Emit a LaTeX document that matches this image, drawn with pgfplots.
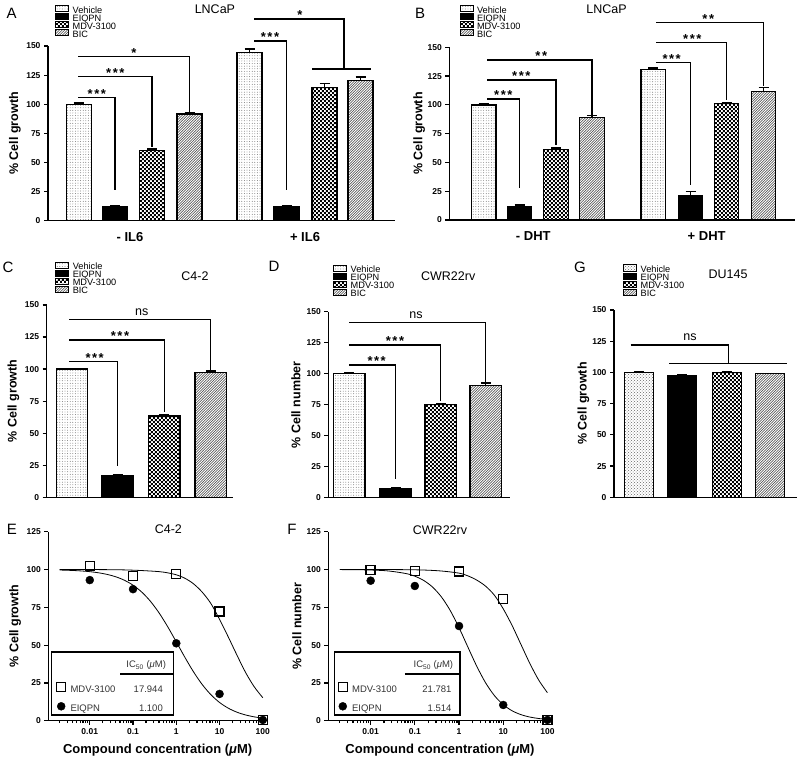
\documentclass[border=0pt]{standalone}
\usepackage{pgfplots}
\pgfplotsset{compat=1.18}
\usepackage{fontspec}
\setmainfont{Liberation Sans}
\usetikzlibrary{patterns}
\pgfdeclarepatternformonly{smallchecker}{\pgfpointorigin}{\pgfqpoint{4.4pt}{4.4pt}}{\pgfqpoint{4.4pt}{4.4pt}}{%
  \pgfpathrectangle{\pgfpointorigin}{\pgfqpoint{2.2pt}{2.2pt}}%
  \pgfpathrectangle{\pgfqpoint{2.2pt}{2.2pt}}{\pgfqpoint{2.2pt}{2.2pt}}%
  \pgfusepath{fill}}
\pgfdeclarepatternformonly{finedots}{\pgfqpoint{-0.5pt}{-0.5pt}}{\pgfqpoint{0.5pt}{0.5pt}}{\pgfqpoint{2.6pt}{2.6pt}}{%
  \pgfpathcircle{\pgfpointorigin}{0.45pt}%
  \pgfusepath{fill}}
\pgfdeclarepatternformonly{finehatch}{\pgfqpoint{-1pt}{-1pt}}{\pgfqpoint{3pt}{3pt}}{\pgfqpoint{2.6pt}{2.6pt}}{%
  \pgfsetlinewidth{0.55pt}%
  \pgfpathmoveto{\pgfqpoint{0pt}{0pt}}%
  \pgfpathlineto{\pgfqpoint{2.7pt}{2.7pt}}%
  \pgfusepath{stroke}}
\newcommand{\fs}[1]{\fontsize{#1}{#1}\selectfont}
\newcommand{\three}{*\hspace{1.5pt}*\hspace{1.5pt}*}
\newcommand{\two}{*\hspace{1.5pt}*}
\tikzset{
  brline/.style={line width=1.3pt},
  stars/.style={anchor=south, inner sep=0pt, font=\bfseries\fs{13}, yshift=-1pt},
  nslab/.style={anchor=south, inner sep=0pt, font=\fs{12.5}, yshift=4pt},
}
\newcommand{\brk}[6]{%
  \draw[brline] (axis cs:#1,#3) -- (axis cs:#2,#3) -- (axis cs:#2,#4);
  \node[stars] at (axis cs:#5,#3) {#6};}
\pgfplotsset{
  common/.style={
    scale only axis, clip=false,
    axis lines*=left,
    axis line style={line width=1.2pt},
    tick align=outside,
    major tick length=4pt,
    every tick/.style={black, line width=1.2pt},
    /pgf/number format/assume math mode=true,
    tick label style={font=\bfseries\fs{8.5}},
    ylabel style={font=\bfseries\fs{12.5}, anchor=center},
    title style={font=\fs{12.5}, anchor=center},
  },
  barpanel/.style={
    common,
    ymin=0, ymax=150, ytick={0,25,...,150},
    xticklabel style={font=\bfseries\fs{13}, yshift=-4pt},
    major x tick style={draw=none},
    legend style={anchor=north west, draw=none, fill=none, font=\fs{9.2},
      row sep=-1.8pt, inner sep=0pt, nodes={inner sep=0pt, text height=5.4pt, text depth=1.7pt},
      /tikz/every odd column/.append style={column sep=3.5pt}},
    legend cell align=left,
    legend image code/.code={\draw[#1, line width=1pt] (0pt,-0.4pt) rectangle (13pt,5.8pt);},
  },
  bars/.style={ybar, bar shift=0pt, draw=black, line width=1.3pt,
    error bars/y dir=plus, error bars/y explicit,
    error bars/error bar style={line width=1.3pt, black},
    error bars/error mark options={rotate=90, line width=1.3pt, mark size=5pt, black}},
  veh/.style={bars, pattern=finedots, pattern color=black!60},
  vehg/.style={bars, pattern=crosshatch dots, pattern color=black!60},
  eiq/.style={bars, fill=black},
  mdv/.style={bars, pattern=smallchecker, pattern color=black},
  bic/.style={bars, pattern=finehatch, pattern color=black!75},
  curve/.style={black, line width=0.8pt, smooth, forget plot},
  mdvm/.style={only marks, mark=square, mark size=4.5pt, mark options={line width=1.4pt, fill=white, draw=black},
    legend image code/.code={\draw[##1] plot coordinates {(0pt,3pt)};}},
  eiqm/.style={only marks, mark=*, mark size=4pt, mark options={fill=black, draw=black},
    legend image code/.code={\draw[##1] plot coordinates {(0pt,3pt)};}},
  doseresp/.style={
    common,
    xmin=0.0011, xmax=125, ymin=0, ymax=125, ytick={0,25,...,125},
    xtick={0.01,0.1,1,10,100}, xticklabels={0.01,0.1,1,10,100},
    minor xtick={0.002,0.003,0.004,0.005,0.006,0.007,0.008,0.009,0.02,0.03,0.04,0.05,0.06,0.07,0.08,0.09,0.2,0.3,0.4,0.5,0.6,0.7,0.8,0.9,2,3,4,5,6,7,8,9,20,30,40,50,60,70,80,90},
    minor tick length=2.5pt,
    xlabel={Compound concentration (\textit{μ}M)},
    xlabel style={font=\bfseries\fs{13}, at={(rel axis cs:0.5,0)}, anchor=center, yshift=-29.3pt},
    legend style={anchor=north west, draw=none, fill=none, font=\fs{9.5}, text=black!80,
      row sep=8pt, inner sep=0pt, nodes={inner sep=0pt},
      /tikz/every odd column/.append style={column sep=4.8pt}},
    legend cell align=left,
  },
}
\begin{document}
\begin{tikzpicture}[x=1pt,y=1pt]
\useasboundingbox (0,0) rectangle (800,763);

% ---------------- A ----------------
\begin{axis}[barpanel, at={(48pt,542.3pt)}, anchor=south west, width=347pt, height=174.7pt,
  xmin=0, xmax=347, bar width=25,
  xtick={82,257}, xticklabels={- IL6,+ IL6},
  ylabel={\% Cell growth}, ylabel style={at={(rel axis cs:-0.095,0.5)}},
  legend style={at={(rel axis cs:0.02,1.236)}},
  title={LNCaP}, title style={at={(rel axis cs:0.481,1.177)}}]
\addplot[veh] coordinates {(30.7,100) +- (0,1) (201.5,144.5) +- (0,3)};
\addplot[eiq] coordinates {(67,12) +- (0,0.6) (238.5,12) +- (0,0.6)};
\addplot[mdv] coordinates {(104,60.5) +- (0,1) (276.5,114.5) +- (0,3)};
\addplot[bic] coordinates {(141.5,91.5) +- (0,1.5) (312.5,120.5) +- (0,3)};
\legend{Vehicle,EIQPN,MDV-3100,BIC}
\brk{30}{67}{106}{26}{48.8}{\three}
\brk{30}{104}{123.7}{63.6}{67.3}{\three}
\brk{30}{141.5}{141}{93.6}{86}{*}
\brk{206}{238.5}{154.3}{26.3}{222}{\three}
\draw[brline] (axis cs:206,173.2) -- (axis cs:296,173.2) -- (axis cs:296,130.3);
\draw[brline] (axis cs:264,130.3) -- (axis cs:322.7,130.3);
\node[stars] at (axis cs:252,173.2) {*};
\end{axis}

% ---------------- B ----------------
\begin{axis}[barpanel, at={(449.3pt,543pt)}, anchor=south west, width=345.7pt, height=172.7pt,
  xmin=0, xmax=345.7, bar width=24.5,
  xtick={84,257.4}, xticklabels={- DHT,+ DHT},
  ylabel={\% Cell growth}, ylabel style={at={(rel axis cs:-0.087,0.5)}},
  legend style={at={(rel axis cs:0.029,1.246)}},
  title={LNCaP}, title style={at={(rel axis cs:0.455,1.187)}}]
\addplot[veh] coordinates {(34.4,100) +- (0,1) (204,131) +- (0,1)};
\addplot[eiq] coordinates {(70.2,12) +- (0,1) (241.2,21.5) +- (0,3)};
\addplot[mdv] coordinates {(106.7,61.5) +- (0,1) (277.2,101) +- (0,0.6)};
\addplot[bic] coordinates {(142.7,89) +- (0,1.5) (314.2,111.5) +- (0,3.5)};
\legend{Vehicle,EIQPN,MDV-3100,BIC}
\brk{37.7}{70.2}{105}{27.5}{54}{\three}
\brk{37.7}{106.7}{121.6}{65}{72}{\three}
\brk{37.7}{142.7}{139}{91.5}{92}{\two}
\brk{206.7}{241.2}{136.7}{30.4}{222.3}{\three}
\brk{206.7}{277.2}{154.3}{104.2}{243}{\three}
\brk{206.7}{314.2}{171.7}{116.4}{259}{\two}
\end{axis}

% ---------------- C ----------------
\begin{axis}[barpanel, at={(46.7pt,265.7pt)}, anchor=south west, width=186.3pt, height=192.3pt,
  xmin=0, xmax=186.3, bar width=31.5, xtick=\empty,
  ylabel={\% Cell growth}, ylabel style={at={(rel axis cs:-0.179,0.5)}},
  legend style={at={(rel axis cs:0.045,1.227)}},
  title={C4-2}, title style={at={(rel axis cs:0.796,1.121)}}]
\addplot[veh] coordinates {(25.3,100) +- (0,0.6)};
\addplot[eiq] coordinates {(70.8,17) +- (0,0.6)};
\addplot[mdv] coordinates {(117.5,63.5) +- (0,1)};
\addplot[bic] coordinates {(164.1,97.5) +- (0,1)};
\legend{Vehicle,EIQPN,MDV-3100,BIC}
\brk{22.6}{70.8}{105.8}{24.4}{48}{\three}
\brk{22.6}{117.5}{122.7}{66.8}{73.3}{\three}
\draw[brline] (axis cs:22.6,138.8) -- (axis cs:164.1,138.8) -- (axis cs:164.1,98.5);
\node[nslab] at (axis cs:95,138.8) {ns};
\end{axis}

% ---------------- D ----------------
\begin{axis}[barpanel, at={(328.3pt,265.3pt)}, anchor=south west, width=181.7pt, height=186pt,
  xmin=0, xmax=181.7, bar width=31.7, xtick=\empty,
  ylabel={\% Cell number}, ylabel style={at={(rel axis cs:-0.178,0.5)}},
  legend style={at={(rel axis cs:0.026,1.254)}},
  title={CWR22rv}, title style={at={(rel axis cs:0.660,1.161)}}]
\addplot[veh] coordinates {(20.9,100) +- (0,1)};
\addplot[eiq] coordinates {(67.5,7.3) +- (0,0.5)};
\addplot[mdv] coordinates {(112.5,75) +- (0,1)};
\addplot[bic] coordinates {(157.5,90.5) +- (0,2)};
\legend{Vehicle,EIQPN,MDV-3100,BIC}
\brk{21}{67.5}{107}{14.8}{48.4}{\three}
\brk{21}{112.5}{123.1}{78.2}{66.7}{\three}
\draw[brline] (axis cs:21,141.1) -- (axis cs:157.5,141.1) -- (axis cs:157.5,92);
\node[nslab] at (axis cs:87.7,141.1) {ns};
\end{axis}

% ---------------- G ----------------
\begin{axis}[barpanel, at={(614pt,265.7pt)}, anchor=south west, width=182.7pt, height=187.3pt,
  xmin=0, xmax=182.7, bar width=29, xtick=\empty,
  ylabel={\% Cell growth}, ylabel style={at={(rel axis cs:-0.168,0.5)}},
  legend style={at={(rel axis cs:0.049,1.244)}},
  title={DU145}, title style={at={(rel axis cs:0.624,1.160)}}]
\addplot[vehg] coordinates {(24.8,100) +- (0,0.6)};
\addplot[eiq] coordinates {(68.2,97.5) +- (0,0.4)};
\addplot[mdv] coordinates {(112.7,100) +- (0,0.6)};
\addplot[bic] coordinates {(156,99) +- (0,0.4)};
\legend{Vehicle,EIQPN,MDV-3100,BIC}
\draw[brline] (axis cs:16.7,122) -- (axis cs:114.3,122) -- (axis cs:114.3,107.3);
\draw[brline] (axis cs:55.3,107.3) -- (axis cs:172.7,107.3);
\node[nslab] at (axis cs:76,122) {ns};
\end{axis}

% ---------------- E ----------------
\begin{semilogxaxis}[doseresp, at={(48.3pt,42.3pt)}, anchor=south west, width=218.7pt, height=189pt,
  ylabel={\% Cell growth}, ylabel style={at={(rel axis cs:-0.152,0.5)}},
  title={C4-2}, title style={at={(rel axis cs:0.549,0.983)}},
  legend style={at={(rel axis cs:0.0375,0.202)}}]
\addplot[curve] coordinates {(0.002,99.99)(0.00398,99.99)(0.01,99.96)(0.02512,99.9)(0.0631,99.74)(0.1585,99.31)(0.3981,98.6)(0.631,97.8)(1,96.5)(1.585,94.2)(2.512,90.5)(3.981,85)(6.31,77.5)(10,67)(15.85,55.5)(25.12,43.5)(39.81,32)(63.1,22.5)(100,15.2)};
\addplot[curve] coordinates {(0.002,99.66)(0.00398,99.37)(0.00631,99.05)(0.01,98.57)(0.01585,97.84)(0.02512,96.77)(0.03981,95.2)(0.0631,92.9)(0.1,89.64)(0.1585,85.11)(0.2512,79.06)(0.3981,71.38)(0.631,62.24)(1,52.14)(1.585,41.86)(2.512,32.24)(3.981,23.91)(6.31,17.19)(10,12.06)(15.85,8.31)(25.12,5.65)(39.81,3.81)(63.1,2.55)(100,1.7)};
\addplot[mdvm] coordinates {(0.01,102.3)(0.1,95.7)(1,97)(10,72.1)(100,0.5)};
\addlegendentry{\makebox[92.3pt][l]{MDV-3100\hfill 17.944}}
\addplot[eiqm] coordinates {(0.01,93)(0.1,87)(1,51.2)(10,17.7)(100,0.5)};
\addlegendentry{\makebox[92.3pt][l]{EIQPN\hfill 1.100}}
\draw[line width=1.6pt] (rel axis cs:0.0155,0.030) rectangle (rel axis cs:0.5716,0.365);
\node[anchor=base east, inner sep=0pt, font=\fs{9.5}, text=black!80] at (rel axis cs:0.539,0.279) {IC\textsubscript{50} (\textit{μ}M)};
\draw[line width=1.2pt] (rel axis cs:0.328,0.247) -- (rel axis cs:0.5716,0.247);
\end{semilogxaxis}

% ---------------- F ----------------
\begin{semilogxaxis}[doseresp, at={(328.3pt,42.3pt)}, anchor=south west, width=223.4pt, height=189pt,
  ylabel={\% Cell number}, ylabel style={at={(rel axis cs:-0.141,0.5)}},
  title={CWR22rv}, title style={at={(rel axis cs:0.5,0.974)}},
  legend style={at={(rel axis cs:0.0439,0.202)}}]
\addplot[curve] coordinates {(0.002,100)(0.01,99.99)(0.02512,99.96)(0.0631,99.88)(0.1585,99.65)(0.3981,99.01)(1,97.6)(1.585,95.8)(2.512,93)(3.981,89)(6.31,83)(10,74)(15.85,63)(25.12,50.5)(39.81,38)(63.1,27)(100,18.5)};
\addplot[curve] coordinates {(0.002,99.94)(0.00398,99.88)(0.01,99.66)(0.02512,99.04)(0.0631,97.32)(0.1,95.57)(0.1585,92.76)(0.2512,88.4)(0.3981,81.91)(0.631,72.91)(1,61.5)(1.585,48.71)(2.512,36.07)(3.981,25.11)(6.31,16.62)(10,10.59)(15.85,6.58)(25.12,4.02)(39.81,2.43)(63.1,1.46)(100,0.87)};
\addplot[mdvm] coordinates {(0.01,99.7)(0.1,99)(1,98.6)(10,80.3)(100,0.5)};
\addlegendentry{\makebox[99.4pt][l]{MDV-3100\hfill 21.781}}
\addplot[eiqm] coordinates {(0.01,92.6)(0.1,89.1)(1,62.6)(10,10.4)(100,0.5)};
\addlegendentry{\makebox[99.4pt][l]{EIQPN\hfill 1.514}}
\draw[line width=1.6pt] (rel axis cs:0.0269,0.030) rectangle (rel axis cs:0.5895,0.365);
\node[anchor=base east, inner sep=0pt, font=\fs{9.5}, text=black!80] at (rel axis cs:0.5596,0.279) {IC\textsubscript{50} (\textit{μ}M)};
\draw[line width=1.2pt] (rel axis cs:0.343,0.247) -- (rel axis cs:0.5895,0.247);
\end{semilogxaxis}

% panel letters
\node[font=\fs{15}] at (11.7,749.7) {A};
\node[font=\fs{15}] at (420,749.7) {B};
\node[font=\fs{15}] at (8,496) {C};
\node[font=\fs{15}] at (274,497) {D};
\node[font=\fs{15}] at (580,496) {G};
\node[font=\fs{15}] at (12,234) {E};
\node[font=\fs{15}] at (292,234) {F};
\end{tikzpicture}
\end{document}
